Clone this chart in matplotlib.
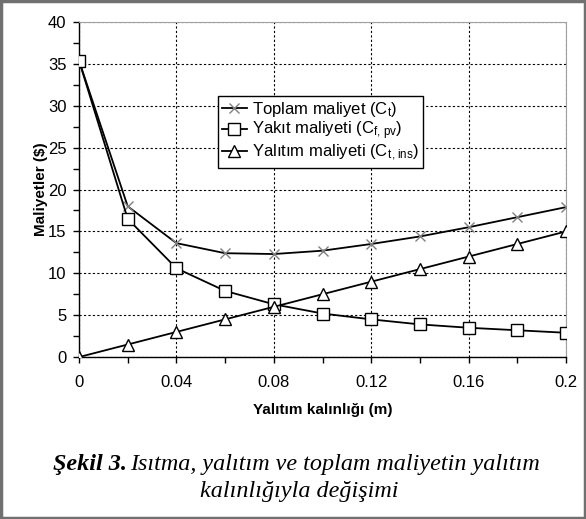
import numpy as np
import matplotlib.pyplot as plt
from matplotlib.patches import Rectangle
from matplotlib.ticker import MultipleLocator

plt.rcParams['font.family'] = ['Liberation Sans', 'DejaVu Sans']
plt.rcParams['mathtext.fontset'] = 'custom'
plt.rcParams['mathtext.rm'] = 'Liberation Sans'
plt.rcParams['mathtext.it'] = 'Liberation Sans:italic'

# yalıtım kalınlığı (m)
thickness = [0, 0.02, 0.04, 0.06, 0.08, 0.10, 0.12, 0.14, 0.16, 0.18, 0.20]
# maliyetler ($)
total_cost = [35.4, 18.0, 13.6, 12.4, 12.3, 12.7, 13.5, 14.4, 15.5, 16.7, 17.9]
fuel_cost = [35.4, 16.5, 10.6, 7.9, 6.3, 5.2, 4.5, 3.9, 3.5, 3.2, 2.9]
ins_cost = [0, 1.5, 3.0, 4.5, 6.0, 7.5, 9.0, 10.5, 12.0, 13.5, 15.0]

labels = [r'Toplam maliyet (C$_{\mathrm{t}}$)',
          r'Yakıt maliyeti (C$_{\mathrm{f,\,pv}}$)',
          r'Yalıtım maliyeti (C$_{\mathrm{t\,,ins}}$)']

fig = plt.figure(figsize=(5.86, 5.19), dpi=100)
ax = fig.add_axes([0.1348, 0.312, 0.8312, 0.6456])

ax.plot(thickness, total_cost, color='black', lw=1.3, marker='x', ms=7,
        mec='#808080', mew=1.0, label=labels[0], zorder=3)
ax.plot(thickness, fuel_cost, color='black', lw=1.3, marker='s', ms=8,
        mfc='white', mec='black', mew=1.0, label=labels[1], zorder=4)
ax.plot(thickness, ins_cost, color='black', lw=1.3, marker='^', ms=8,
        mfc='white', mec='black', mew=1.0, label=labels[2], zorder=4)

ax.set_xlim(0, 0.2)
ax.set_ylim(0, 40)
ax.xaxis.set_minor_locator(MultipleLocator(0.02))
ax.yaxis.set_major_locator(MultipleLocator(5))
ax.yaxis.set_minor_locator(MultipleLocator(2.5))
ax.set_xticks([0, 0.04, 0.08, 0.12, 0.16, 0.2])
ax.set_xticklabels(['0', '0.04', '0.08', '0.12', '0.16', '0.2'])
ax.tick_params(which='both', direction='out', length=4, width=1, labelsize=12, color='black')
ax.tick_params(axis='x', pad=9)
ax.tick_params(axis='y', pad=5)
ax.grid(True, which='major', color='black', ls=(0, (2, 2)), lw=0.8)

for s in ['top', 'right']:
    ax.spines[s].set_color('#a0a0a0')
    ax.spines[s].set_linewidth(0.8)
for s in ['left', 'bottom']:
    ax.spines[s].set_color('black')
    ax.spines[s].set_linewidth(1.0)

ax.set_xlabel('Yalıtım kalınlığı (m)', fontsize=11, fontweight='bold', labelpad=9)
ax.set_ylabel('Maliyetler ($)', fontsize=11, fontweight='bold', labelpad=0)

leg = ax.legend(loc='upper left', bbox_to_anchor=(0.285, 0.78), fontsize=12,
                frameon=True, fancybox=False, edgecolor='black', framealpha=1,
                handlelength=1.5, handletextpad=0.3, borderpad=0.25, labelspacing=0.05,
                borderaxespad=0)
leg.get_frame().set_linewidth(1.0)

# şekil altyazısı
fs = 17.4
head = fig.text(0.09, 0.094, 'Şekil 3.', family='Liberation Serif', style='italic',
                fontweight='bold', fontsize=fs, ha='left', va='baseline')
r = fig.canvas.get_renderer()
bb = head.get_window_extent(renderer=r)
x1 = bb.x1 / fig.bbox.width + 0.006
fig.text(x1, 0.094, 'Isıtma, yalıtım ve toplam maliyetin yalıtım',
         family='Liberation Serif', style='italic', fontsize=fs, ha='left', va='baseline')
fig.text(0.511, 0.043, 'kalınlığıyla değişimi', family='Liberation Serif',
         style='italic', fontsize=fs, ha='center', va='baseline')

fig.patches.append(Rectangle((0.002, 0.002), 0.996, 0.996, transform=fig.transFigure,
                             fill=False, edgecolor='#707070', lw=2.5))

fig.savefig('out.png', dpi=100)
